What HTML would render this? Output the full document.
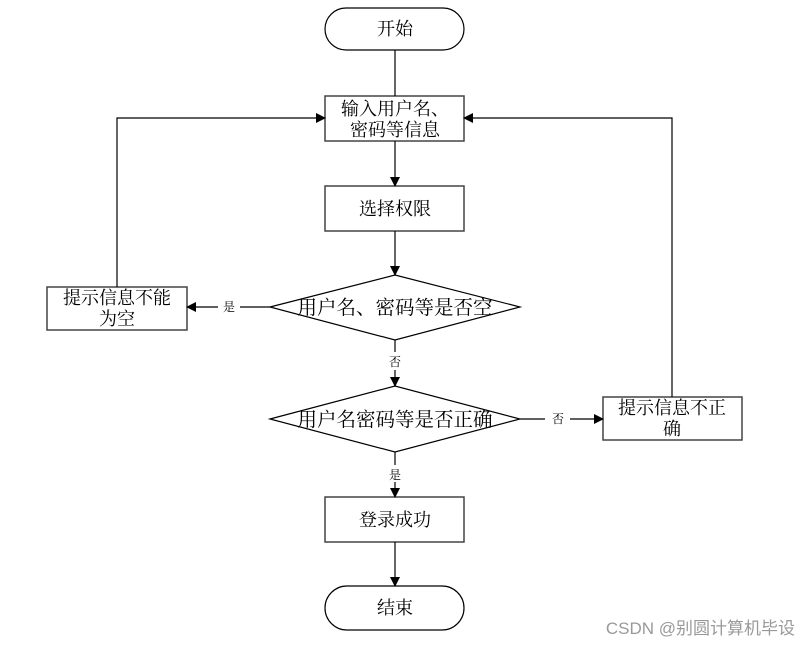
<!DOCTYPE html>
<html><head><meta charset="utf-8"><style>
html,body{margin:0;padding:0;background:#fff;}
svg text{font-family:"Liberation Serif","Noto Serif CJK SC","Noto Sans CJK SC",serif;fill:#000;}
</style></head><body>
<svg width="809" height="645" viewBox="0 0 809 645" xmlns="http://www.w3.org/2000/svg">
<defs><marker id="a" markerWidth="10" markerHeight="10" refX="9" refY="5" orient="auto" markerUnits="userSpaceOnUse"><path d="M0,0 L10,5 L0,10 z" fill="#000"/></marker></defs>
<g stroke="#000" stroke-width="1.2" fill="none">
<rect x="325" y="8" width="139" height="42" rx="21"/>
<rect x="325" y="96" width="139" height="45" stroke="#444" stroke-width="1.5"/>
<rect x="325" y="186" width="139" height="45" stroke="#444" stroke-width="1.5"/>
<polygon points="270,307 395,275 520,307 395,340"/>
<rect x="47" y="287" width="140" height="43" stroke="#444" stroke-width="1.5"/>
<polygon points="270,419 395,386 520,419 395,452"/>
<rect x="603" y="397" width="139" height="43" stroke="#444" stroke-width="1.5"/>
<rect x="325" y="497" width="139" height="45" stroke="#444" stroke-width="1.5"/>
<rect x="325" y="586" width="139" height="44" rx="22"/>
<line x1="395" y1="50" x2="395" y2="96"/>
<line x1="395" y1="141" x2="395" y2="186" marker-end="url(#a)"/>
<line x1="395" y1="231" x2="395" y2="275" marker-end="url(#a)"/>
<line x1="270" y1="307" x2="240" y2="307"/>
<line x1="218" y1="307" x2="187" y2="307" marker-end="url(#a)"/>
<polyline points="117,287 117,118 325,118" marker-end="url(#a)"/>
<line x1="395" y1="340" x2="395" y2="352"/>
<line x1="395" y1="370" x2="395" y2="386" marker-end="url(#a)"/>
<line x1="520" y1="419" x2="545" y2="419"/>
<line x1="570" y1="419" x2="603" y2="419" marker-end="url(#a)"/>
<polyline points="672,397 672,118 464,118" marker-end="url(#a)"/>
<line x1="395" y1="452" x2="395" y2="465"/>
<line x1="395" y1="482" x2="395" y2="497" marker-end="url(#a)"/>
<line x1="395" y1="542" x2="395" y2="586" marker-end="url(#a)"/>
</g>
<g font-size="18" text-anchor="middle">
<text x="395" y="35">开始</text>
<text x="395" y="115">输入用户名、</text>
<text x="395" y="136">密码等信息</text>
<text x="395" y="215">选择权限</text>
<text x="395" y="314" font-size="19.5">用户名、密码等是否空</text>
<text x="117" y="304">提示信息不能</text>
<text x="117" y="325">为空</text>
<text x="395" y="426" font-size="19.5">用户名密码等是否正确</text>
<text x="672" y="414">提示信息不正</text>
<text x="672" y="435">确</text>
<text x="395" y="526">登录成功</text>
<text x="395" y="614">结束</text>
</g>
<g font-size="12" text-anchor="middle">
<text x="229" y="311">是</text>
<text x="395" y="366">否</text>
<text x="558" y="423">否</text>
<text x="395" y="479">是</text>
</g>
<text x="795" y="634" font-size="17" text-anchor="end" style="fill:#999;font-family:'Liberation Sans','Noto Sans CJK SC',sans-serif">CSDN @别圆计算机毕设</text>
</svg>
</body></html>
